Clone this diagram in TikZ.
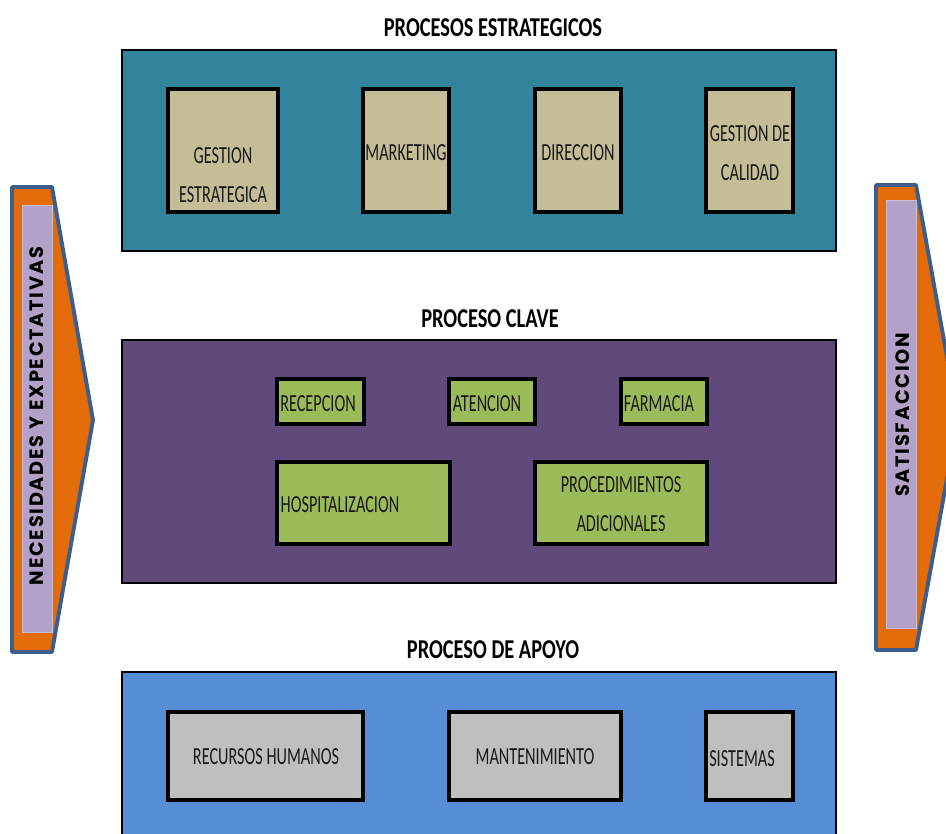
\documentclass[tikz,border=0pt]{standalone}
\usepackage{fontspec}
\usepackage{xcolor}
\newfontfamily\boxfont[FakeStretch=0.66]{Carlito}
\newfontfamily\titlefont[FakeStretch=0.75]{Carlito}
\newfontfamily\sidefont[LetterSpace=9]{Poppins}
\definecolor{tealbg}{HTML}{31849B}
\definecolor{tanbox}{HTML}{C4BD97}
\definecolor{purplebg}{HTML}{604A7B}
\definecolor{greenbox}{HTML}{9BBB59}
\definecolor{bluebg}{HTML}{558ED5}
\definecolor{greybox}{HTML}{BFBFBF}
\definecolor{orangearr}{HTML}{E36C09}
\definecolor{lavender}{HTML}{B3A2C7}
\definecolor{arrline}{HTML}{3B5E8C}
\usepackage{tikz}
\usetikzlibrary{positioning}
\def\px{0.02cm}
\tikzset{
    bigbox/.style={draw=black, line width=1.1pt},
    inbox/.style={draw=black, line width=2.3pt, inner sep=0pt},
    boxtext/.style={font=\boxfont\fontsize{14}{22}\selectfont, align=center, inner sep=0pt, text=black!90},
    title/.style={font=\titlefont\bfseries\fontsize{15.5}{18}\selectfont, inner sep=0pt},
    sidetext/.style={font=\sidefont\bfseries\fontsize{11}{13}\selectfont, rotate=90, inner sep=0pt}
}

\begin{document}
\begin{tikzpicture}[x=\px, y=-\px]
  \useasboundingbox (0,0) rectangle (946,834);
  \begin{scope}
    \clip (0,0) rectangle (946,834);

    % ===================== SIDE ARROWS =====================
    \draw[line width=2.2pt, arrline, fill=orangearr, line join=round]
      (12,187) -- (52,187) -- (93,420) -- (52,652) -- (12,652) -- cycle;
    \node[draw=lavender!70!white, fill=lavender, minimum width=30*\px, minimum height=427*\px,
      inner sep=0pt] (necbar) at (37,418.5) {};
    \node[sidetext] (nec) at (37,416) {NECESIDADES Y EXPECTATIVAS};

    \draw[line width=2.2pt, arrline, fill=orangearr, line join=round]
      (876,185) -- (916,185) -- (958,418) -- (916,650) -- (876,650) -- cycle;
    \node[draw=lavender!70!white, fill=lavender, minimum width=30*\px, minimum height=428*\px,
      inner sep=0pt] (satbar) at (901,414) {};
    \node[sidetext] (sat) at (903,415) {SATISFACCION};

    % ===================== PROCESOS ESTRATEGICOS =====================
    \node[title] (tstrat) at (493,28) {PROCESOS ESTRATEGICOS};
    \draw[bigbox, fill=tealbg] (122,50) rectangle (836,251);

    % four boxes, same height
    \node[inbox, fill=tanbox, minimum width=110*\px, minimum height=123*\px] (gest) at (223,150.5) {};
    \node[inbox, fill=tanbox, minimum width=86*\px, minimum height=123*\px] (mark) at (406,150.5) {};
    \node[inbox, fill=tanbox, minimum width=86*\px, minimum height=123*\px] (dir) at (578,150.5) {};
    \node[inbox, fill=tanbox, minimum width=87*\px, minimum height=123*\px] (cal) at (749.5,150.5) {};

    \node[boxtext] (gestT) at (223,175) {GESTION\\ESTRATEGICA};
    \node[boxtext] (markT) at (406,153) {MARKETING};
    \node[boxtext] (dirT) at (578,153) {DIRECCION};
    \node[boxtext] (calT) at (750,153) {GESTION DE\\CALIDAD};

    % ===================== PROCESO CLAVE =====================
    \node[title] (tclave) at (490,319) {PROCESO CLAVE};
    \draw[bigbox, fill=purplebg] (122,340) rectangle (836,583);

    \node[inbox, fill=greenbox, minimum width=87*\px, minimum height=45*\px] (recep) at (320.5,401.5) {};
    \node[inbox, fill=greenbox, minimum width=86*\px, minimum height=45*\px] (aten) at (492,401.5) {};
    \node[inbox, fill=greenbox, minimum width=86*\px, minimum height=45*\px] (farm) at (664,401.5) {};
    \node[inbox, fill=greenbox, minimum width=173*\px, minimum height=82*\px] (hosp) at (363.5,503) {};
    \node[inbox, fill=greenbox, minimum width=172*\px, minimum height=82*\px] (proc) at (621,503) {};

    \node[boxtext] (recepT) at (318,404) {RECEPCION};
    \node[boxtext] (atenT) at (487,404) {ATENCION};
    \node[boxtext] (farmT) at (659,404) {FARMACIA};
    \node[boxtext] (hospT) at (340,505) {HOSPITALIZACION};
    \node[boxtext] (procT) at (621,504) {PROCEDIMIENTOS\\ADICIONALES};

    % ===================== PROCESO DE APOYO =====================
    \node[title] (tapoyo) at (493,650) {PROCESO DE APOYO};
    \draw[bigbox, fill=bluebg] (122,672) rectangle (836,860);

    \node[inbox, fill=greybox, minimum width=195*\px, minimum height=88*\px] (rrhh) at (265.5,756) {};
    \node[inbox, fill=greybox, minimum width=172*\px, minimum height=88*\px] (mant) at (535,756) {};
    \node[inbox, fill=greybox, minimum width=87*\px, minimum height=88*\px] (sist) at (749.5,756) {};

    \node[boxtext] (rrhhT) at (266,757) {RECURSOS HUMANOS};
    \node[boxtext] (mantT) at (535,757) {MANTENIMIENTO};
    \node[boxtext] (sistT) at (742,759) {SISTEMAS};
  \end{scope}
\end{tikzpicture}
\end{document}
